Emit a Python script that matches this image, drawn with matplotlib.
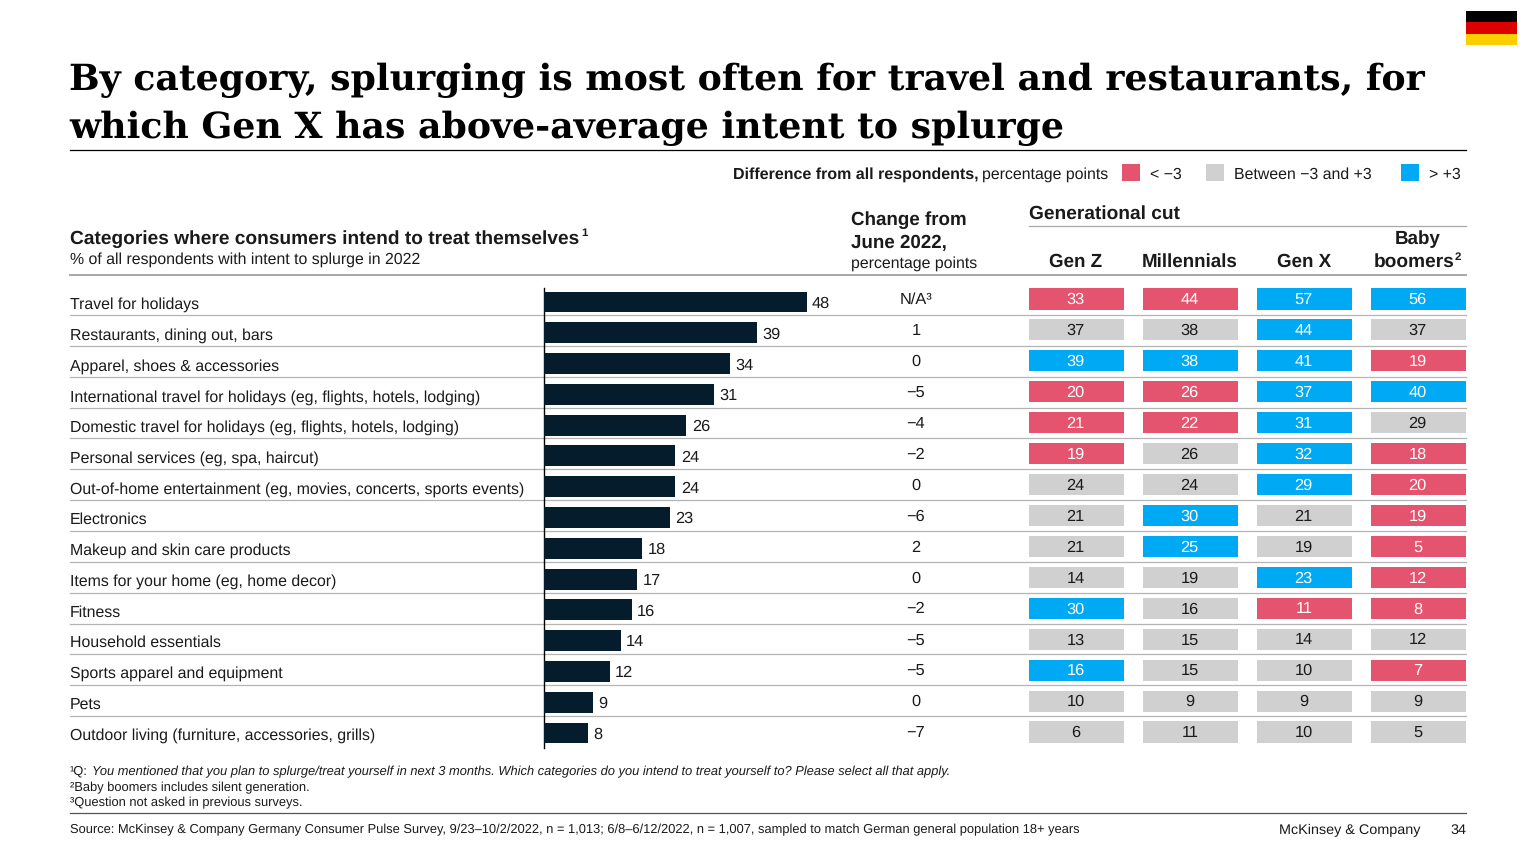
import matplotlib
matplotlib.use("Agg")
import matplotlib.pyplot as plt
from matplotlib.patches import Rectangle
import numpy as np

plt.rcParams['font.family'] = ['Liberation Sans', 'DejaVu Sans']
plt.rcParams['text.hinting'] = 'no_hinting'

categories = ["Travel for holidays", "Restaurants, dining out, bars", "Apparel, shoes & accessories",
              "International travel for holidays (eg, flights, hotels, lodging)",
              "Domestic travel for holidays (eg, flights, hotels, lodging)",
              "Personal services (eg, spa, haircut)",
              "Out-of-home entertainment (eg, movies, concerts, sports events)",
              "Electronics", "Makeup and skin care products", "Items for your home (eg, home decor)",
              "Fitness", "Household essentials", "Sports apparel and equipment", "Pets",
              "Outdoor living (furniture, accessories, grills)"]
overall = [48, 39, 34, 31, 26, 24, 24, 23, 18, 17, 16, 14, 12, 9, 8]
change = ["N/A³", "1", "0", "−5", "−4", "−2", "0", "−6", "2", "0", "−2", "−5", "−5", "0", "−7"]
generations = ["Gen Z", "Millennials", "Gen X", "Baby\nboomers"]
gen_z = [33, 37, 39, 20, 21, 19, 24, 21, 21, 14, 30, 13, 16, 10, 6]
millennials = [44, 38, 38, 26, 22, 26, 24, 30, 25, 19, 16, 15, 15, 9, 11]
gen_x = [57, 44, 41, 37, 31, 32, 29, 21, 19, 23, 11, 14, 10, 9, 10]
boomers = [56, 37, 19, 40, 29, 18, 20, 19, 5, 12, 8, 12, 7, 9, 5]

DARK = "#051C2C"; PINK = "#E5546F"; GRAY = "#D0D0D0"; BLUE = "#00A9F4"
TXT = "#1a1a1a"; RULE = "#b4b4b4"

W, H = 1536, 864
fig = plt.figure(figsize=(W/100, H/100), dpi=100, facecolor="white")

def px_axes(x0, ytop, x1, ybot, **kw):
    a = fig.add_axes([x0/W, 1-ybot/H, (x1-x0)/W, (ybot-ytop)/H], **kw)
    a.axis("off")
    return a

def fs(px):
    return px*0.72

ax0 = px_axes(0, 0, W, H)
ax0.set_xlim(0, W); ax0.set_ylim(H, 0)

def T(x, y, s, px=16, w="normal", ha="left", c=TXT, **kw):
    return ax0.text(x, y, s, fontsize=fs(px), fontweight=w, ha=ha, va="baseline", color=c, **kw)

# Title
for y, s in [(90, "By category, splurging is most often for travel and restaurants, for"),
             (138, "which Gen X has above-average intent to splurge")]:
    ax0.text(69, y, s, fontsize=fs(36.3), fontweight="bold", family="DejaVu Serif",
             color="black", va="baseline", ha="left")

# Flag
for yy, col in zip([11, 22.3, 33.6], ["#000000", "#DD0000", "#FFCE00"]):
    ax0.add_patch(Rectangle((1466, yy), 51, 11.4, color=col, lw=0))

# Rules
ax0.plot([70, 1466], [150, 150], color="black", lw=0.9)
ax0.plot([70, 1466], [274.5, 274.5], color="#a0a0a0", lw=1.3)
ax0.plot([1029, 1466], [225.5, 225.5], color="#a8a8a8", lw=0.9)
ax0.plot([70, 1466], [813, 813], color="#555555", lw=0.9)
for i in range(14):
    yy = 315 + i*30.85
    ax0.plot([70, 1466], [yy, yy], color=RULE, lw=0.9)

# Legend
T(733, 179, "Difference from all respondents,", 16, "bold")
T(982, 179, "percentage points", 15.9)
for x, col, s, tx in [(1122, PINK, "< −3", 1150), (1206, GRAY, "Between −3 and +3", 1234), (1401, BLUE, "> +3", 1429)]:
    ax0.add_patch(Rectangle((x, 164), 18, 17, color=col, lw=0))
    T(tx, 179, s, 15.9)

# Headers
T(70, 244, "Categories where consumers intend to treat themselves", 19.2, "bold")
T(581, 236, "1", 11.5, "bold")
T(70, 264, "% of all respondents with intent to splurge in 2022", 15.9)
T(851, 225, "Change from", 18.8, "bold")
T(851, 248, "June 2022,", 18.8, "bold")
T(851, 268, "percentage points", 15.85)
T(1029, 219, "Generational cut", 19.2, "bold")
T(1076, 267, generations[0], 18.8, "bold", ha="center")
T(1190, 267, generations[1], 18.8, "bold", ha="center")
T(1304, 267, generations[2], 18.8, "bold", ha="center")
T(1418, 244, generations[3].split("\n")[0], 18.8, "bold", ha="center")
T(1455, 267, generations[3].split("\n")[1], 19.1, "bold", ha="right")
T(1455, 260, "2", 11.5, "bold")

# Category labels
for i, c in enumerate(categories):
    T(70, 309 + i*30.75, c, 15.95)

# Bars
n = len(categories)
step_b = (733-302)/(n-1)
ax_b = px_axes(544, 302-step_b/2, 544+5.47*60, 733+step_b/2)
ax_b.set_xlim(0, 60); ax_b.set_ylim(n-0.5, -0.5)
ypos = np.arange(n)
ax_b.barh(ypos, overall, height=0.68, color=DARK, lw=0)
for y, v in zip(ypos, overall):
    ax_b.annotate(str(v), (v, y), xytext=(5.5, 0), textcoords="offset pixels",
                  fontsize=fs(16.4), ha="left", va="center_baseline", color=TXT)
ax0.plot([544, 544], [288, 748], color="black", lw=1.0)

# Heat cells
step_h = (732-299)/(n-1)
ax_h = px_axes(1029, 299-step_h/2, 1029+114*4, 732+step_h/2)
ax_h.set_xlim(0, 4); ax_h.set_ylim(n-0.5, -0.5)
for j, col in enumerate([gen_z, millennials, gen_x, boomers]):
    for y, v, o in zip(ypos, col, overall):
        d = v-o
        fc = PINK if d < -3 else BLUE if d > 3 else GRAY
        ax_h.barh(y, 0.83, left=j, height=0.68, color=fc, lw=0)
        ax_h.text(j+0.41, y-0.02, str(v), fontsize=fs(16.4), ha="center", va="center_baseline",
                  color="white" if fc != GRAY else TXT)

# Change column
for y, v in zip(ypos, change):
    ax_h.text((916-1029)/114, y-0.02, v, fontsize=fs(16.4), ha="center", va="center_baseline", color=TXT, clip_on=False)

# Footnotes
T(70, 775, "¹Q:", 12.85)
T(92, 775, "You mentioned that you plan to splurge/treat yourself in next 3 months. Which categories do you intend to treat yourself to? Please select all that apply.", 12.95, style="italic")
T(70, 791, "²Baby boomers includes silent generation.", 12.85)
T(70, 806, "³Question not asked in previous surveys.", 12.85)
T(70, 833, "Source: McKinsey & Company Germany Consumer Pulse Survey, 9/23–10/2/2022, n = 1,013; 6/8–6/12/2022, n = 1,007, sampled to match German general population 18+ years", 12.87)
T(1420, 834, "McKinsey & Company", 14.45, ha="right")
T(1466, 834, "34", 14.4, ha="right")

fig.savefig("out.png", dpi=100, facecolor="white")
